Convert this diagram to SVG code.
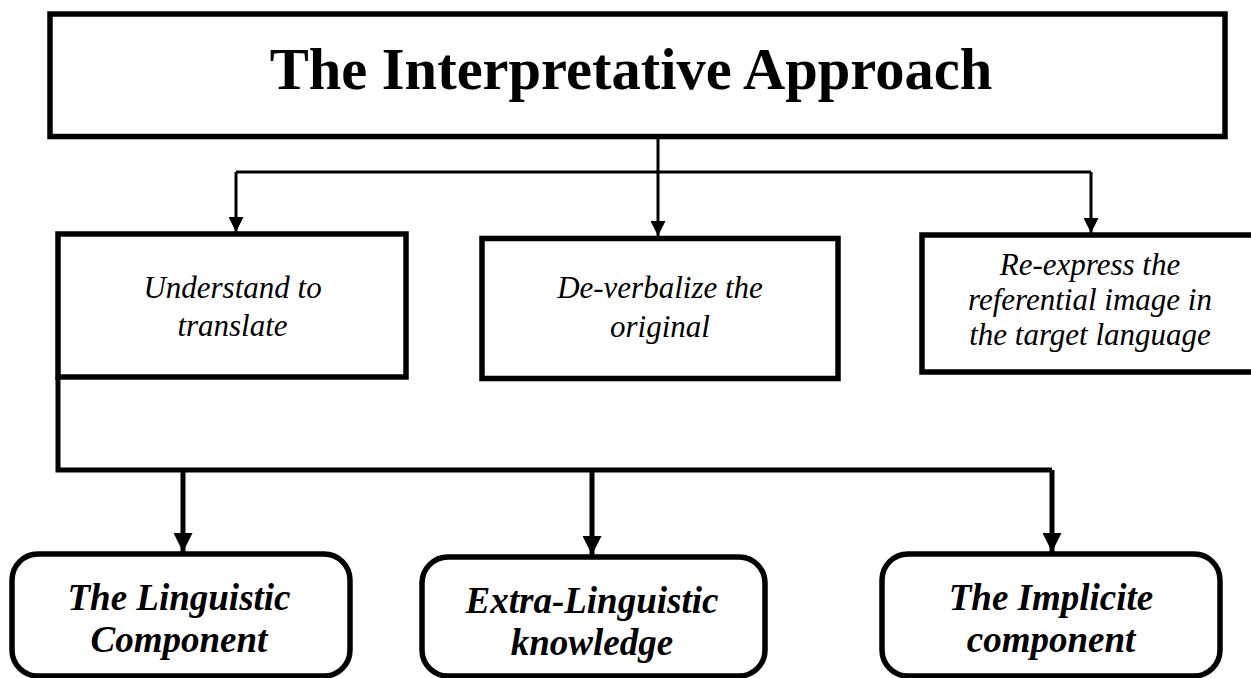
<svg xmlns="http://www.w3.org/2000/svg" width="1251" height="678" viewBox="0 0 1251 678">
<style>
.box{fill:#fff;stroke:#000;stroke-width:5.5}
.rbox{fill:#fff;stroke:#000;stroke-width:5.5}
.thin{fill:none;stroke:#000;stroke-width:3}
.thick{fill:none;stroke:#000;stroke-width:5}
.title{font-family:"Liberation Serif",serif;font-weight:bold;font-size:58.5px}
.mid{font-family:"Liberation Serif",serif;font-style:italic;font-size:31px}
.bot{font-family:"Liberation Serif",serif;font-style:italic;font-weight:bold;font-size:37px}
</style>
<defs>
<marker id="a1" markerWidth="5" markerHeight="5" refX="5" refY="2.5" orient="auto" markerUnits="strokeWidth"><path d="M0,0 L5,2.5 L0,5 Z" fill="#000"/></marker>
<marker id="a2" markerWidth="3.8" markerHeight="3.8" refX="3.8" refY="1.9" orient="auto" markerUnits="strokeWidth"><path d="M0,0 L3.8,1.9 L0,3.8 Z" fill="#000"/></marker>
</defs>
<rect width="1251" height="678" fill="#fff"/>
<g id="connectors">
<path class="thin" d="M658,136 V236" marker-end="url(#a1)"/>
<path class="thin" d="M236,172 H1091"/>
<path class="thin" d="M236,172 V232" marker-end="url(#a1)"/>
<path class="thin" d="M1091,172 V233" marker-end="url(#a1)"/>
<path class="thick" d="M58,377 V470 H1052"/>
<path class="thick" d="M183,470 V552" marker-end="url(#a2)"/>
<path class="thick" d="M592,470 V555" marker-end="url(#a2)"/>
<path class="thick" d="M1052,470 V552" marker-end="url(#a2)"/>
</g>
<g id="title">
<rect class="box" x="50" y="14" width="1175" height="122.5"/>
<text class="title" x="631" y="88.5" text-anchor="middle">The Interpretative Approach</text>
</g>
<g id="understand">
<rect class="box" x="58" y="234" width="348" height="143"/>
<text class="mid" text-anchor="middle"><tspan x="232.5" y="298">Understand to</tspan><tspan x="232.5" y="336">translate</tspan></text>
</g>
<g id="deverbalize">
<rect class="box" x="482" y="238.5" width="356" height="140"/>
<text class="mid" text-anchor="middle"><tspan x="660" y="298">De-verbalize the</tspan><tspan x="660" y="337">original</tspan></text>
</g>
<g id="reexpress">
<rect class="box" x="922" y="235" width="340" height="137"/>
<text class="mid" text-anchor="middle"><tspan x="1090" y="275">Re-express the</tspan><tspan x="1090" y="310">referential image in</tspan><tspan x="1090" y="345">the target language</tspan></text>
</g>
<g id="linguistic">
<rect class="rbox" x="12" y="554" width="338" height="122" rx="26"/>
<text class="bot" text-anchor="middle"><tspan x="179" y="610">The Linguistic</tspan><tspan x="179" y="652">Component</tspan></text>
</g>
<g id="extra">
<rect class="rbox" x="422" y="557" width="343" height="119" rx="26"/>
<text class="bot" text-anchor="middle"><tspan x="592" y="613">Extra-Linguistic</tspan><tspan x="592" y="655">knowledge</tspan></text>
</g>
<g id="implicite">
<rect class="rbox" x="882" y="554" width="338" height="122" rx="26"/>
<text class="bot" text-anchor="middle"><tspan x="1051" y="610">The Implicite</tspan><tspan x="1051" y="652">component</tspan></text>
</g>
</svg>
